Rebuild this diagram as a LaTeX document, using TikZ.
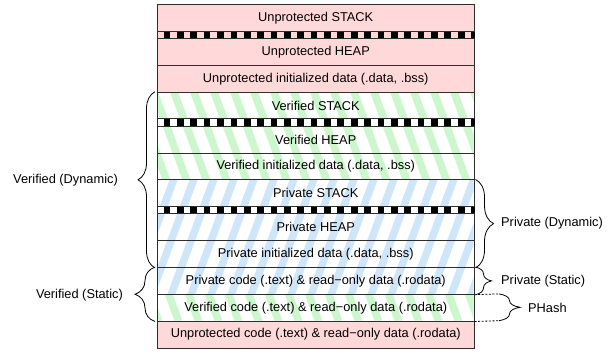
\documentclass[tikz,border=0pt]{standalone}
\usepackage{fontspec}
\setmainfont{Liberation Sans}
\usetikzlibrary{decorations.pathreplacing}
\definecolor{unprot}{RGB}{255,217,217}
\definecolor{verif}{RGB}{204,247,204}
\definecolor{priv}{RGB}{207,230,250}
\definecolor{edge}{RGB}{45,45,45}
\tikzset{
  memrow/.style={draw=edge, line width=0.8pt, minimum width=316.7pt, minimum height=26.8pt, inner sep=0pt, anchor=north west, font=\fontsize{12.8}{15}\selectfont},
  memband/.style={draw=edge, line width=0.8pt, minimum width=316.7pt, minimum height=7.3pt, inner sep=0pt, anchor=north west},
  checks/.style={line width=6.4pt, dash pattern=on 6.68pt off 6.69pt, dash phase=6.69pt},
  bracestyle/.style={decorate, decoration={brace, amplitude=#1}, line width=0.8pt},
  lbl/.style={font=\fontsize{12.8}{15}\selectfont, inner sep=0pt},
  gstripe/.style={draw=verif, line width=7.5pt},
  bstripe/.style={draw=priv, line width=7.5pt},
  dotline/.style={line width=0.8pt, dash pattern=on 2pt off 1.6pt},
}
\begin{document}
\begin{tikzpicture}[x=1pt, y=-1pt]
\useasboundingbox (0,0) rectangle (607,352);
% backgrounds
\fill[white] (0,0) rectangle (607,352);
\fill[unprot] (157,4) rectangle (473.7,91.7);
\fill[unprot] (157,320.7) rectangle (473.7,347.5);
\begin{scope}
  \clip (157,91.7) rectangle (473.7,179.4) (157,293.9) rectangle (473.7,320.7);
  \foreach \i in {-200,-180,...,640} \draw[gstripe] (\i,0) -- (\i+130,352);
\end{scope}
\begin{scope}
  \clip (157,179.4) rectangle (473.7,293.9);
  \foreach \i in {0,20,...,820} \draw[bstripe] (\i,0) -- (\i-130,352);
\end{scope}
% rows
\node[memrow] (us) at (157,4) {Unprotected STACK};
\node[memband, fill=unprot] (b1) at (157,30.8) {};
\node[memrow] (uh) at (157,38.1) {Unprotected HEAP};
\node[memrow] (ui) at (157,64.9) {Unprotected initialized data (.data, .bss)};
\node[memrow] (vs) at (157,91.7) {Verified STACK};
\node[memband, fill=white] (b2) at (157,118.5) {};
\node[memrow] (vh) at (157,125.8) {Verified HEAP};
\node[memrow] (vi) at (157,152.6) {Verified initialized data (.data, .bss)};
\node[memrow] (ps) at (157,179.4) {Private STACK};
\node[memband, fill=white] (b3) at (157,206.2) {};
\node[memrow] (ph) at (157,213.5) {Private HEAP};
\node[memrow] (pi) at (157,240.3) {Private initialized data (.data, .bss)};
\node[memrow] (pc) at (157,267.1) {Private code (.text) \& read−only data (.rodata)};
\node[memrow] (vc) at (157,293.9) {Verified code (.text) \& read−only data (.rodata)};
\node[memrow] (uc) at (157,320.7) {Unprotected code (.text) \& read−only data (.rodata)};
\foreach \b in {b1,b2,b3} \draw[checks] (\b.west) -- (\b.east);
% left braces
\draw[bracestyle=17] ([xshift=-2pt]pi.south west) -- ([xshift=-2pt]vs.north west);
\draw[bracestyle=20] ([xshift=-2pt]vc.south west) -- ([xshift=-2pt]pc.north west);
\node[lbl, anchor=east] (lvd) at (118,180.5) {Verified (Dynamic)};
\node[lbl, anchor=east] (lvs) at (123,295.5) {Verified (Static)};
% right braces
\draw[bracestyle=18] ([xshift=1pt]ps.north east) -- ([xshift=1pt]pi.south east);
\draw[bracestyle=16] ([xshift=1pt]pc.north east) -- ([xshift=1pt]pc.south east);
\coordinate (q1) at (499,293.9);
\coordinate (q2) at (499,320.7);
\draw[dotline] (pc.south east) -- (q1);
\draw[dotline] (vc.south east) -- (q2);
\draw[bracestyle=21] (q1) -- (q2);
\node[lbl, anchor=west] (lpd) at (501,223.5) {Private (Dynamic)};
\node[lbl, anchor=west] (lps) at (501,281) {Private (Static)};
\node[lbl, anchor=west] (lph) at (528,307.8) {PHash};
\end{tikzpicture}
\end{document}
